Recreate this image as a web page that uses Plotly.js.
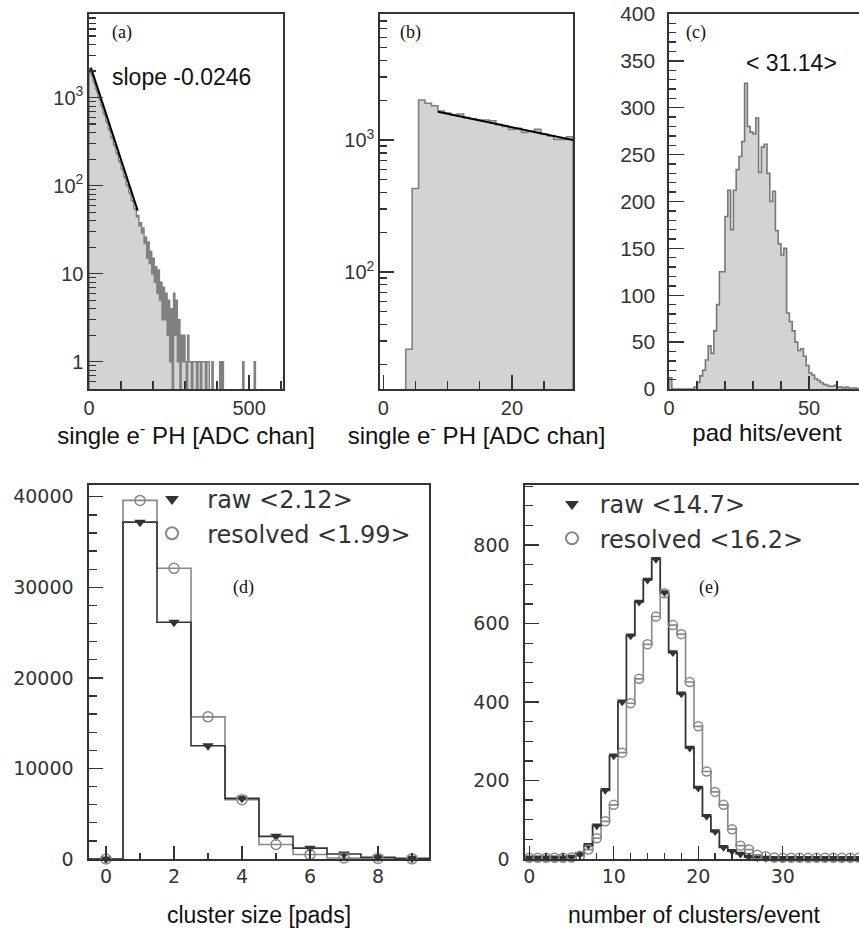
<!DOCTYPE html>
<html><head><meta charset="utf-8">
<script src="https://cdn.plot.ly/plotly-3.0.1.min.js"></script>
<style>html,body{margin:0;padding:0;overflow:hidden;background:#fff}#chart{width:870px;height:933px}</style>
</head><body><div id="chart"></div>
<script>
// ===================== DATA =====================
// (a) single-electron pulse height, bins of 4 ADC channels starting at 0
const phA_binStart = 0;
const phA_binWidth = 4;
const phA_counts = [
  2150,1880,1760,1530,1420,1250,1160,1010,945,820,
  770,670,625,540,510,440,415,355,340,290,
  275,236,224,192,183,155,149,127,121,102,
  98,84,80,68,66,55,54,44,46,35,
  38,29,33,22,26,15,23,13,18,10,
  15,8,12,6,11,5,8,3,7,3,
  6,2,5,1,4,0,6,2,5,1,
  3,0,2,1,2,1,0,2,1,1,
  0,1,1,1,0,1,1,0,1,1,
  1,0,1,1,0,0,1,0,0,0,
  0,0,1,0,1,0,0,0,0,0,
  0,0,0,0,0,0,0,0,0,0,
  1,0,0,0,0,0,0,0,0,1,0
];
const phA_fitX = [6, 152];
const phA_fitY = [2190, 52];

// (b) single-electron pulse height, 0-30 ADC channels
const phB_bins = [0,1,2,3,4,5,6,7,8,9,10,11,12,13,14,15,16,17,18,19,20,21,22,23,24,25,26,27,28,29];
const phB_counts = [0,0,0,0,26,430,2010,1900,1820,1660,1600,1550,1575,1480,1450,1420,1420,1400,1310,1270,1205,1225,1143,1165,1205,1110,1075,1012,1012,1060];
const phB_fitX = [8.5, 29.5];
const phB_fitY = [1640, 1000];

// (c) pad hits per event (bins [k, k+1))
const padHits_binLow = [];
for (let k = 0; k < 70; k++) padHits_binLow.push(k);
const padHits_counts = [
  12,0,0,0,0,0,0,0,0,2,
  7,14,20,31,46,38,62,90,125,125,
  184,212,170,212,234,248,264,326,280,274,
  272,289,231,258,261,230,200,211,169,155,
  143,150,81,72,62,50,41,43,35,25,
  17,15,11,9,7,5,4,3,3,4,
  2,2,1,2,1,1,1,0,1,0
];

// (d) cluster size [pads]
const clusterSize = [0,1,2,3,4,5,6,7,8,9];
const clusterRaw = [0,37200,26150,12500,6700,2500,1200,550,200,70];
const clusterResolved = [0,39600,32100,15700,6550,1600,500,120,50,20];

// (e) number of clusters per event
const nClusters = [];
for (let k = 0; k < 40; k++) nClusters.push(k);
const nClustersRaw = [3,3,3,3,3,5,12,35,85,175,263,401,569,655,711,764,679,526,421,283,181,109,70,30,20,13,5,3,2,2,2,2,2,2,2,2,2,2,2,2];
const nClustersResolved = [3,3,3,3,3,4,8,24,53,96,138,271,397,459,547,618,677,596,573,451,338,223,171,138,76,34,24,11,7,4,3,3,3,3,3,3,3,3,3,3];

// labels
const panelLabels = ['(a)','(b)','(c)','(d)','(e)'];
const xTitles = ['single e<sup>-</sup> PH [ADC chan]','single e<sup>-</sup> PH [ADC chan]','pad hits/event','cluster size [pads]','number of clusters/event'];
const logTickVals = [1,10,100,1000];
const logTickText = ['1','10','10<sup>2</sup>','10<sup>3</sup>'];
const legendRawD = 'raw &lt;2.12&gt;';
const legendResD = 'resolved &lt;1.99&gt;';
const legendRawE = 'raw &lt;14.7&gt;';
const legendResE = 'resolved &lt;16.2&gt;';
const slopeText = 'slope -0.0246';
const meanPadText = '&lt; 31.14&gt;';

// ===================== LAYOUT HELPERS =====================
const W = 870, H = 933;
const px = v => v / W;
const py = v => 1 - v / H;
const FRAME = '#333';
const FILL = '#d3d3d3';
const OUT = '#808080';
const DARK = '#333';
const GREY = '#888';
const NB = '\u00a0';

function stepPoly(lo, w, vals, floor) {
  const xs = [lo], ys = [floor];
  vals.forEach((v, i) => {
    const y = v > 0 ? v : floor;
    xs.push(lo + i * w, lo + (i + 1) * w);
    ys.push(y, y);
  });
  xs.push(lo + vals.length * w); ys.push(floor);
  return {xs, ys};
}
function stepOpen(centers, vals) {
  const xs = [], ys = [];
  centers.forEach((c, i) => { xs.push(c - 0.5, c + 0.5); ys.push(vals[i], vals[i]); });
  return {xs, ys};
}
function logMinor(lo, hi) {
  const out = [];
  for (let d = lo; d <= hi; d++) for (let m = 2; m <= 9; m++) out.push(m * Math.pow(10, d));
  return out;
}

const sA = stepPoly(phA_binStart, phA_binWidth, phA_counts, 0.2);
const sB = stepPoly(phB_bins[0] - 0.5, 1, phB_counts, 5);
const sC = stepPoly(padHits_binLow[0], 1, padHits_counts, 0);
const dRaw = stepOpen(clusterSize, clusterRaw);
const dRes = stepOpen(clusterSize, clusterResolved);
const eRaw = stepOpen(nClusters, nClustersRaw);
const eRes = stepOpen(nClusters, nClustersResolved);

const traces = [
  {x: sA.xs, y: sA.ys, xaxis:'x', yaxis:'y', mode:'lines', fill:'toself', fillcolor:FILL, line:{color:OUT, width:1.4}, showlegend:false},
  {x: phA_fitX, y: phA_fitY, xaxis:'x', yaxis:'y', mode:'lines', line:{color:'#000', width:2}, showlegend:false},
  {x: sB.xs, y: sB.ys, xaxis:'x2', yaxis:'y2', mode:'lines', fill:'toself', fillcolor:FILL, line:{color:OUT, width:1.6}, showlegend:false},
  {x: phB_fitX, y: phB_fitY, xaxis:'x2', yaxis:'y2', mode:'lines', line:{color:'#000', width:2}, showlegend:false},
  {x: sC.xs, y: sC.ys, xaxis:'x3', yaxis:'y3', mode:'lines', fill:'toself', fillcolor:FILL, line:{color:'#777', width:1.6}, showlegend:false},
  {x: dRes.xs, y: dRes.ys, xaxis:'x4', yaxis:'y4', mode:'lines', line:{color:GREY, width:1.6}, showlegend:false},
  {x: dRaw.xs, y: dRaw.ys, xaxis:'x4', yaxis:'y4', mode:'lines', line:{color:DARK, width:1.6}, showlegend:false},
  {x: clusterSize, y: clusterRaw, xaxis:'x4', yaxis:'y4', mode:'markers', name: NB + NB + legendRawD, legend:'legend', legendgroup:'d1',
   marker:{symbol:'triangle-down', size:10, color:DARK}, cliponaxis:false},
  {x: clusterSize, y: clusterResolved, xaxis:'x4', yaxis:'y4', mode:'markers', name: NB + NB + legendResD, legend:'legend', legendgroup:'d2',
   marker:{symbol:'circle-open', size:10, color:GREY, line:{width:1.5, color:GREY}}, cliponaxis:false},
  {x: eRes.xs, y: eRes.ys, xaxis:'x5', yaxis:'y5', mode:'lines', line:{color:GREY, width:1.6}, showlegend:false},
  {x: eRaw.xs, y: eRaw.ys, xaxis:'x5', yaxis:'y5', mode:'lines', line:{color:DARK, width:1.8}, showlegend:false},
  {x: nClusters, y: nClustersRaw, xaxis:'x5', yaxis:'y5', mode:'markers', name: NB + legendRawE, legend:'legend2', legendgroup:'e1',
   marker:{symbol:'triangle-down', size:9, color:DARK}, cliponaxis:false},
  {x: nClusters, y: nClustersResolved, xaxis:'x5', yaxis:'y5', mode:'markers', name: NB + legendResE, legend:'legend2', legendgroup:'e2',
   marker:{symbol:'circle-open', size:9, color:GREY, line:{width:1.5, color:GREY}}, cliponaxis:false},
  // empty traces that only host the overlay axes carrying the log minor ticks
  {x: [], y: [], xaxis:'x', yaxis:'y6', mode:'lines', showlegend:false},
  {x: [], y: [], xaxis:'x2', yaxis:'y7', mode:'lines', showlegend:false}
];

function axisBase(extra) {
  return Object.assign({
    showline:true, mirror:true, linecolor:FRAME, linewidth:1.6,
    ticks:'inside', tickcolor:FRAME, tickwidth:1.4,
    showgrid:false, zeroline:false, fixedrange:true, automargin:false
  }, extra);
}
function minorOverlay(over, anchor, range, vals) {
  return {overlaying:over, anchor:anchor, side:'left', type:'log', range:range,
    tickmode:'array', tickvals:vals, ticks:'inside', ticklen:7, tickwidth:1.3, tickcolor:FRAME,
    showticklabels:false, showline:false, showgrid:false, zeroline:false, fixedrange:true, automargin:false};
}
const topTickFont = {family:'Liberation Sans, Arial, sans-serif', size:20, color:'#333'};
const botTickFont = {family:'DejaVu Sans, sans-serif', size:19, color:'#333'};
const titleFontTop = {family:'Liberation Sans, Arial, sans-serif', size:24, color:'#111'};
const titleFontBot = {family:'Liberation Sans, Arial, sans-serif', size:23, color:'#111'};
const minorStyle = {ticks:'inside', tickcolor:FRAME, tickwidth:1.3};

const rowTop = [py(389), py(14)];
const rowBot = [py(859), py(485)];
const rangeAy = [-0.31, 3.95];
const rangeBy = [1.114, 3.955];

const layout = {
  width: W, height: H,
  margin: {l:0, r:0, t:0, b:0},
  paper_bgcolor:'#fff', plot_bgcolor:'#fff',
  hovermode:false,
  showlegend:true,
  // (a)
  xaxis: axisBase({domain:[px(89), px(283)], anchor:'y', range:[0,606],
    tickmode:'array', tickvals:[0,500], ticklen:14,
    minor:Object.assign({ticklen:8, tick0:0, dtick:100}, minorStyle),
    tickfont:topTickFont, title:{text:xTitles[0], font:titleFontTop, standoff:5}}),
  yaxis: axisBase({domain:rowTop, anchor:'x', type:'log', range:rangeAy,
    tickmode:'array', tickvals:logTickVals, ticktext:logTickText, ticklen:14,
    tickfont:topTickFont}),
  yaxis6: minorOverlay('y', 'x', rangeAy, [0.5,0.6,0.7,0.8,0.9].concat(logMinor(0,3))),
  // (b)
  xaxis2: axisBase({domain:[px(380), px(573)], anchor:'y2', range:[-0.5,29.5],
    tickmode:'linear', tick0:0, dtick:20, ticklen:14,
    minor:Object.assign({ticklen:8, tick0:0, dtick:5}, minorStyle),
    tickfont:topTickFont, title:{text:xTitles[1], font:titleFontTop, standoff:5}}),
  yaxis2: axisBase({domain:rowTop, anchor:'x2', type:'log', range:rangeBy,
    tickmode:'array', tickvals:[100,1000], ticktext:[logTickText[2], logTickText[3]], ticklen:14,
    tickfont:topTickFont}),
  yaxis7: minorOverlay('y2', 'x2', rangeBy, logMinor(1,3)),
  // (c)
  xaxis3: axisBase({domain:[px(669), px(865)], anchor:'y3', range:[0,70],
    tickmode:'linear', tick0:0, dtick:50, ticklen:13,
    minor:Object.assign({ticklen:8, tick0:0, dtick:10}, minorStyle),
    tickfont:topTickFont, title:{text:xTitles[2], font:titleFontTop, standoff:5}}),
  yaxis3: axisBase({domain:rowTop, anchor:'x3', range:[0,400],
    tickmode:'linear', tick0:0, dtick:50, ticklen:15, ticklabelstandoff:8,
    minor:Object.assign({ticklen:7, tick0:0, dtick:10}, minorStyle),
    tickfont:{family:'Liberation Sans, Arial, sans-serif', size:21, color:'#333'}}),
  // (d)
  xaxis4: axisBase({domain:[px(89), px(429)], anchor:'y4', range:[-0.5,9.5],
    tickmode:'linear', tick0:0, dtick:2, ticklen:13,
    minor:Object.assign({ticklen:6, tick0:0, dtick:1}, minorStyle),
    tickfont:botTickFont, title:{text:xTitles[3], font:titleFontBot, standoff:20}}),
  yaxis4: axisBase({domain:rowBot, anchor:'x4', range:[0,41300],
    tickmode:'linear', tick0:0, dtick:10000, ticklen:14, tickformat:'d', ticklabelstandoff:10,
    minor:Object.assign({ticklen:8, tick0:0, dtick:2000}, minorStyle),
    tickfont:botTickFont}),
  // (e)
  xaxis5: axisBase({domain:[px(525), px(863)], anchor:'y5', range:[-0.5,39.5],
    tickmode:'linear', tick0:0, dtick:10, ticklen:13,
    minor:Object.assign({ticklen:6, tick0:0, dtick:2}, minorStyle),
    tickfont:botTickFont, title:{text:xTitles[4], font:titleFontBot, standoff:20}}),
  yaxis5: axisBase({domain:rowBot, anchor:'x5', range:[0,953],
    tickmode:'linear', tick0:0, dtick:200, ticklen:14, ticklabelstandoff:10,
    minor:Object.assign({ticklen:8, tick0:0, dtick:50}, minorStyle),
    tickfont:botTickFont}),
  legend: {x:px(152), xanchor:'left', y:py(477), yanchor:'top', bgcolor:'rgba(0,0,0,0)',
    font:{family:'DejaVu Sans, sans-serif', size:24, color:'#333'}, itemsizing:'constant',
    traceorder:'grouped', tracegroupgap:0, itemclick:false, itemdoubleclick:false},
  legend2: {x:px(552), xanchor:'left', y:py(482), yanchor:'top', bgcolor:'rgba(0,0,0,0)',
    font:{family:'DejaVu Sans, sans-serif', size:24, color:'#333'}, itemsizing:'constant',
    traceorder:'grouped', tracegroupgap:0, itemclick:false, itemdoubleclick:false},
  annotations: []
};

function ann(text, x, y, opts) {
  return Object.assign({text, xref:'paper', yref:'paper', x:px(x), y:py(y), showarrow:false,
    xanchor:'center', yanchor:'middle',
    font:{family:'Liberation Serif, Times New Roman, serif', size:18, color:'#111'}}, opts || {});
}
layout.annotations.push(
  ann(panelLabels[0], 122, 33),
  ann(panelLabels[1], 410, 33),
  ann(panelLabels[2], 696, 33),
  ann(panelLabels[3], 243, 587),
  ann(panelLabels[4], 709, 587),
  ann(slopeText, 110, 77, {xanchor:'left', font:{family:'Liberation Sans, Arial, sans-serif', size:23, color:'#111'}}),
  ann(meanPadText, 744, 63, {xanchor:'left', font:{family:'Liberation Sans, Arial, sans-serif', size:23, color:'#111'}})
);

Plotly.newPlot('chart', traces, layout, {staticPlot:true, displayModeBar:false});
</script>
</body></html>
